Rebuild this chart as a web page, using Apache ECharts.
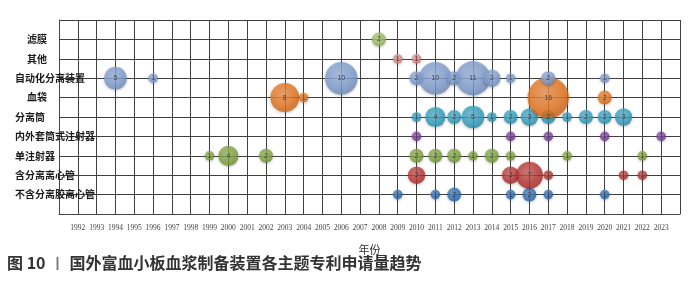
<!DOCTYPE html>
<html>
<head>
<meta charset="utf-8">
<script src="https://cdn.jsdelivr.net/npm/echarts@6/dist/echarts.min.js"></script>
<style>
  html, body { margin: 0; padding: 0; background: #fff; }
  #chart { width: 700px; height: 290px; }
</style>
</head>
<body>
<div id="chart"></div>
<script>
// Row labels, bottom row first
const categories = ['不含分离胶离心管', '含分离离心管', '单注射器', '内外套筒式注射器', '分离筒', '血袋', '自动化分离装置', '其他', '滤膜'];

// Year tick labels along the bottom
const yearLabels = [1992, 1993, 1994, 1995, 1996, 1997, 1998, 1999, 2000, 2001, 2002, 2003, 2004, 2005, 2006, 2007,
                    2008, 2009, 2010, 2011, 2012, 2013, 2014, 2015, 2016, 2017, 2018, 2019, 2020, 2021, 2022, 2023];

// Patent applications per year: [year, count]
const buHanFenLiJiaoLiXinGuan = [[2009, 1], [2011, 1], [2012, 2], [2015, 1], [2016, 2], [2017, 1], [2020, 1]];
const hanFenLiLiXinGuan = [[2010, 3], [2015, 3], [2016, 7], [2017, 1], [2021, 1], [2022, 1]];
const danZhuSheQi = [[1999, 1], [2000, 4], [2002, 2], [2010, 2], [2011, 2], [2012, 2], [2013, 1], [2014, 2], [2015, 1], [2018, 1], [2022, 1]];
const neiWaiTaoTongZhuSheQi = [[2010, 1], [2015, 1], [2017, 1], [2020, 1], [2023, 1]];
const fenLiTong = [[2010, 1], [2011, 4], [2012, 2], [2013, 5], [2014, 1], [2015, 2], [2016, 3], [2017, 2], [2018, 1], [2019, 2], [2020, 2], [2021, 3]];
const xueDai = [[2003, 8], [2004, 1], [2017, 16], [2020, 2]];
const ziDongHuaFenLiZhuangZhi = [[1994, 5], [1996, 1], [2006, 10], [2010, 2], [2011, 10], [2012, 2], [2013, 11], [2014, 3], [2015, 1], [2017, 2], [2020, 1]];
const qiTa = [[2009, 1], [2010, 1]];
const lvMo = [[2008, 2]];

const rows = [buHanFenLiJiaoLiXinGuan, hanFenLiLiXinGuan, danZhuSheQi, neiWaiTaoTongZhuSheQi, fenLiTong, xueDai, ziDongHuaFenLiZhuangZhi, qiTa, lvMo];
const colors = ['#2d6db5', '#b8322f', '#7ea33c', '#7a3f9c', '#2f9fc0', '#e8741c', '#7f9ed2', '#d98a88', '#9cbf62'];

function shade(hex, f) {
  const n = parseInt(hex.slice(1), 16);
  let r = (n >> 16) & 255, g = (n >> 8) & 255, b = n & 255;
  if (f > 0) { r += (255 - r) * f; g += (255 - g) * f; b += (255 - b) * f; }
  else { r *= 1 + f; g *= 1 + f; b *= 1 + f; }
  return 'rgb(' + Math.round(r) + ',' + Math.round(g) + ',' + Math.round(b) + ')';
}

const series = rows.map((arr, i) => ({
  type: 'scatter',
  name: categories[i],
  data: arr.map(([yr, v]) => [yr, i + 1, v]),
  symbolSize: d => 10.6 * Math.sqrt(d[2]) - 1,
  itemStyle: {
    color: {
      type: 'radial', x: 0.42, y: 0.38, r: 0.62,
      colorStops: [
        { offset: 0, color: shade(colors[i], 0.25) },
        { offset: 0.7, color: colors[i] },
        { offset: 1, color: shade(colors[i], -0.12) }
      ]
    },
    shadowBlur: 3,
    shadowColor: 'rgba(0,0,0,0.3)',
    shadowOffsetY: 1
  },
  label: {
    show: true,
    position: 'inside',
    formatter: p => p.data[2],
    fontSize: 7,
    color: '#2a2a2a',
    fontFamily: 'Liberation Sans'
  },
  emphasis: { disabled: true }
}));

const chart = echarts.init(document.getElementById('chart'), null, { renderer: 'canvas' });
chart.setOption({
  animation: false,
  backgroundColor: '#fff',
  title: {
    text: '{a|图 10} {b|丨} {a|国外富血小板血浆制备装置各主题专利申请量趋势}',
    left: 7,
    top: 254,
    padding: 0,
    textStyle: {
      rich: {
        a: { fontSize: 16, fontWeight: 'bold', color: '#333', fontFamily: 'Noto Sans CJK SC' },
        b: { fontSize: 14, color: '#777', fontFamily: 'Noto Sans CJK SC' }
      }
    }
  },
  grid: { left: 59, right: 20, top: 20, bottom: 76 },
  xAxis: {
    type: 'value',
    min: 1991,
    max: 2024,
    interval: 1,
    name: '年份',
    nameLocation: 'middle',
    nameGap: 30,
    nameTextStyle: { fontSize: 11, color: '#333', fontFamily: 'Noto Sans CJK SC' },
    axisLine: { show: true, lineStyle: { color: '#444', width: 1 } },
    axisTick: { show: false },
    axisLabel: {
      margin: 10,
      fontSize: 7.5,
      color: '#444',
      fontFamily: 'Liberation Sans Narrow',
      formatter: v => (yearLabels.indexOf(v) >= 0 ? String(v) : '')
    },
    splitLine: { show: true, lineStyle: { color: '#404040', width: 1 } }
  },
  yAxis: {
    type: 'value',
    min: 0,
    max: 10,
    interval: 1,
    axisLine: { show: true, lineStyle: { color: '#444', width: 1 } },
    axisTick: { show: false },
    axisLabel: {
      margin: 44,
      align: 'left',
      formatter: v => {
        const t = categories[v - 1];
        if (!t) return '';
        return t.length === 2 ? '{s|' + t + '}' : '{n|' + t + '}';
      },
      rich: {
        n: { fontSize: 10, fontWeight: 'bold', color: '#1a1a1a', fontFamily: 'Noto Sans CJK SC' },
        s: { fontSize: 10, fontWeight: 'bold', color: '#1a1a1a', fontFamily: 'Noto Sans CJK SC', padding: [0, 0, 0, 12] }
      }
    },
    splitLine: { show: true, lineStyle: { color: '#404040', width: 1 } }
  },
  series: series
});
</script>
</body>
</html>
